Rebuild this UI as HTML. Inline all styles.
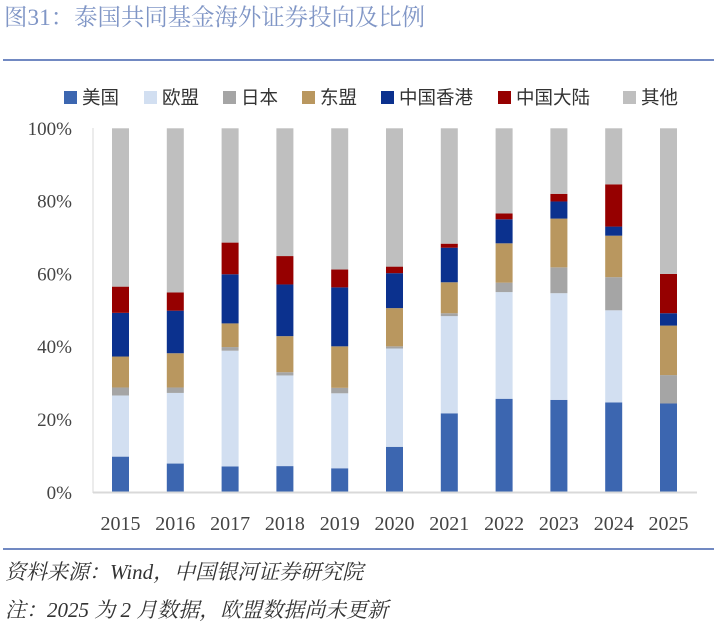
<!DOCTYPE html>
<html><head><meta charset="utf-8"><style>
body{margin:0;width:714px;height:623px;background:#fff;overflow:hidden;font-family:"Liberation Sans","Noto Sans CJK SC",sans-serif;}
.t{position:absolute;white-space:nowrap}
</style></head><body>
<div class="t" style="left:4px;top:3px;font-size:23.4px;line-height:30px;color:#8096c6;font-family:'Liberation Serif','Noto Serif CJK SC',serif;">图31：泰国共同基金海外证券投向及比例</div>
<div style="position:absolute;left:3px;top:59px;width:711px;height:2px;background:#7189c2"></div>
<svg id="c" width="714" height="623" style="position:absolute;left:0;top:0"></svg>
<div style="position:absolute;left:3px;top:548px;width:711px;height:2px;background:#7189c2"></div>
<div class="t" style="left:5px;top:558px;font-size:21px;line-height:28px;color:#333;font-style:italic;font-family:'Liberation Serif','Noto Serif CJK SC',serif;">资料来源：Wind，中国银河证券研究院</div>
<div class="t" style="left:5px;top:596px;font-size:21px;line-height:28px;color:#333;font-style:italic;font-family:'Liberation Serif','Noto Serif CJK SC',serif;">注：2025 为 2 月数据，欧盟数据尚未更新</div>
<script>
const years=['2015','2016','2017','2018','2019','2020','2021','2022','2023','2024','2025'];
const seriesNames=['美国','欧盟','日本','东盟','中国香港','中国大陆','其他'];
const us=[9.8,7.9,7.1,7.2,6.6,12.5,21.7,25.7,25.4,24.7,24.4];
const eu=[16.8,19.4,31.8,24.9,20.6,27.0,26.7,29.3,29.3,25.3,0];
const jp=[2.2,1.5,1.0,0.9,1.5,0.6,0.8,2.6,7.1,9.1,7.8];
const asean=[8.5,9.4,6.5,9.9,11.4,10.5,8.5,10.8,13.4,11.4,13.6];
const hk=[12.0,11.7,13.5,14.2,16.2,9.6,9.5,6.6,4.7,2.5,3.4];
const cn=[7.2,5.0,8.7,7.8,4.9,1.8,1.1,1.6,2.1,11.6,10.8];
const other=[43.5,45.1,31.4,35.1,38.8,38.0,31.7,23.4,18.0,15.4,40.0];
const yTicks=[0,20,40,60,80,100];
const series=[us,eu,jp,asean,hk,cn,other];
const colors=['#3c66b0','#d2dff1','#a5a5a5','#b9975f','#0b318e','#960000','#bfbfbf'];
const svg=document.getElementById('c');
const NS='http://www.w3.org/2000/svg';
const y0=492.3,y1=128.3,x0=120.5,dx=54.8,bw=17;
const yS=v=>y0-(y0-y1)*v/100;
const xS=i=>x0+dx*i;
function mk(t,a){const e=document.createElementNS(NS,t);for(const k in a)e.setAttribute(k,a[k]);svg.appendChild(e);return e;}
let ax=mk('line',{x1:93,y1:128,x2:93,y2:493,stroke:'#d9d9d9','stroke-width':1});


yTicks.forEach(v=>{const t=mk('text',{x:72,y:yS(v)+6.5,'text-anchor':'end','font-size':19,fill:'#444','font-family':'Liberation Serif, serif'});t.textContent=v+'%';

});
years.forEach((yr,i)=>{let c=0;series.forEach((s,k)=>{const v=s[i];const r=mk('rect',{x:xS(i)-bw/2,y:yS(c+v),width:bw,height:Math.max(0,yS(c)-yS(c+v)),fill:colors[k]});


c+=v;});
const t=mk('text',{x:xS(i),y:530,'text-anchor':'middle','font-size':20,fill:'#444','font-family':'Liberation Serif, serif'});t.textContent=yr;

});
let bx=mk('line',{x1:93,y1:492.5,x2:697,y2:492.5,stroke:'#d9d9d9','stroke-width':2});


const lx=[64,144,223,302,381,498,623];
seriesNames.forEach((n,k)=>{const g=mk('g',{});


const r=document.createElementNS(NS,'rect');r.setAttribute('x',lx[k]);r.setAttribute('y',91);r.setAttribute('width',13);r.setAttribute('height',13);r.setAttribute('fill',colors[k]);g.appendChild(r);
const t=document.createElementNS(NS,'text');t.setAttribute('x',lx[k]+18);t.setAttribute('y',104);t.setAttribute('font-size',18.5);t.setAttribute('fill','#333');t.setAttribute('font-family','Liberation Sans, Noto Sans CJK SC, sans-serif');t.textContent=n;g.appendChild(t);});
</script>
</body></html>
